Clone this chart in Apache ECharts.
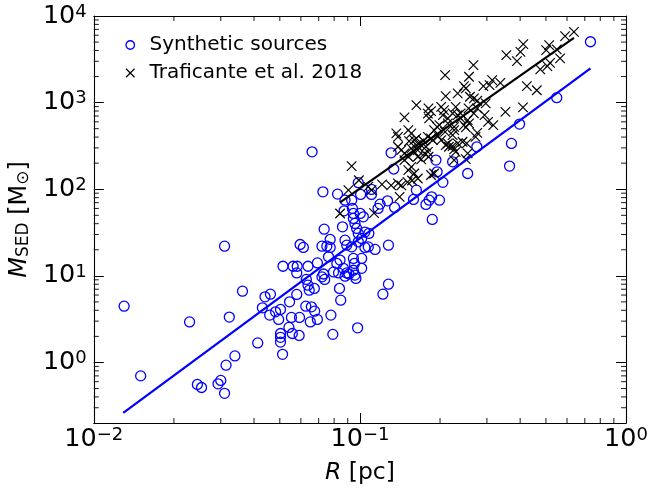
<!DOCTYPE html>
<html><head><meta charset="utf-8">
<script src="https://cdn.jsdelivr.net/npm/echarts@6/dist/echarts.min.js"></script>
<style>html,body{margin:0;padding:0;background:#fff}#c{width:651px;height:490px}</style>
</head><body><div id="c"></div>
<script>
// ---- data ----
const synthR = [0.0130,0.0150,0.0229,0.0310,0.0323,0.0314,0.0339,0.0245,0.0254,0.0293,
0.0300,0.0310,0.0362,0.0413,0.0430,0.0440,0.0461,0.0458,0.0482,0.0503,
0.0495,0.0503,0.0503,0.0503,0.0512,0.0514,0.0541,0.0544,0.0553,0.0557,
0.0561,0.0581,0.0579,0.0579,0.0593,0.0591,0.0596,0.0613,0.0638,0.0626,
0.0629,0.0638,0.0645,0.0674,0.0657,0.0676,0.0651,0.0692,0.0692,0.0720,
0.0720,0.0778,0.0791,0.0980,0.0730,0.0737,0.0838,0.0847,0.0831,0.0892,
0.0910,0.0966,0.122,0.128,0.0661,0.131,0.0726,0.0824,0.0986,0.1006,
0.1105,0.1105,0.0879,0.0931,0.0937,0.0872,0.1003,0.1030,0.0945,0.0958,
0.0972,0.0986,0.1044,0.1080,0.117,0.127,0.134,0.135,0.163,0.159,
0.177,0.182,0.186,0.199,0.187,0.193,0.195,0.205,0.223,0.254,
0.365,0.0734,0.0860,0.0773,0.0751,0.0773,0.128,0.114,0.1044,0.0879,
0.0892,0.0931,0.0986,0.1015,0.1075,0.0945,0.0953,0.1015,0.0842,0.0819,
0.0796,0.0867,0.0879,0.0945,0.0958,0.1015,
0.735,0.549,0.398,0.371,0.275,0.0945,0.119,0.0762];
const synthM = [4.47,0.70,2.94,22.0,3.34,0.93,1.19,0.557,0.514,0.566,
0.62,0.44,6.66,1.68,4.27,5.72,6.15,3.52,3.84,4.09,
3.14,2.16,1.95,1.72,1.24,12.9,2.54,5.01,3.31,2.16,
12.9,12.9,10.8,6.10,3.31,2.05,23.0,21.3,12.9,4.47,
9.09,7.81,6.84,7.15,4.39,3.91,2.94,3.14,14.1,22.0,
9.73,3.52,2.11,2.51,10.5,9.09,7.15,5.24,10.8,10.8,
10.5,9.33,6.15,8.02,270,263,93.3,87.8,119,87.1,
87.1,99.5,74.8,74.8,60.0,56.3,52.5,48.0,46.0,40.3,
35.3,30.9,32.0,30.9,60.0,73.5,171,61.6,97.6,76.2,
66.7,74.8,81.7,74.8,44.8,217,159,120,207,152,
185,34.6,36.8,26.3,22.0,21.3,22.6,20.2,21.3,25.8,
22.6,21.6,24.7,27.0,21.6,15.9,13.9,15.9,15.2,13.9,
11.1,12.2,9.92,11.6,10.2,12.2,
5040,1140,565,338,309,52.5,67.3,16.6];

const trafR = [0.637,0.590,0.514,0.501,0.549,0.411,0.401,0.355,0.389,0.565,
0.518,0.506,0.476,0.267,0.257,0.209,0.314,0.307,0.337,0.291,
0.424,0.462,0.246,0.250,0.233,0.210,0.259,0.268,0.276,0.297,
0.163,0.181,0.185,0.202,0.207,0.229,0.239,0.256,0.352,0.410,
0.147,0.182,0.180,0.223,0.214,0.205,0.268,0.294,0.303,0.317,
0.195,0.209,0.226,0.250,0.276,0.223,0.137,0.139,0.152,0.156,
0.163,0.167,0.180,0.188,0.214,0.216,0.252,0.272,0.139,0.143,
0.147,0.156,0.160,0.177,0.180,0.223,0.226,0.229,0.254,0.165,
0.170,0.233,0.239,0.254,0.257,0.276,0.199,0.214,0.226,0.246,
0.190,0.233,0.243,0.0931,0.0991,0.1075,0.1105,0.0905,0.121,0.131,
0.139,0.143,0.151,0.157,0.165,0.185,0.190,0.152,0.156,0.160,
0.147,0.152,0.141,0.163,0.175,0.181,0.210,0.226,0.250,0.0842,
0.113,0.153,0.173,0.197,0.160,0.185,0.202,0.165];
const trafM = [6570,5860,4610,4040,4110,4740,3860,3530,3010,3240,
2880,2640,2420,2710,1990,2080,1820,1590,1690,1550,
1550,1390,1550,1460,1280,1190,1170,1120,1050,979,
935,857,798,894,819,894,750,857,783,880,
675,657,746,750,657,717,750,717,600,550,
525,460,525,517,448,421,441,403,481,441,
386,338,403,369,338,309,338,403,309,283,
259,296,270,309,270,315,288,270,259,237,
221,717,657,628,575,857,550,575,481,550,
481,338,353,185,127,107,97.6,97.6,114,111,
117,111,121,126,133,146,152,166,181,152,
217,237,81.7,323,259,237,323,217,223,52.5,
53.0,359,363,410,369,386,369,283];

const synthFitR = [0.0129, 0.735];
const synthFitM = [0.262, 2480];
const trafFitR = [0.084, 0.637];
const trafFitM = [70, 5600];

const xRange = [0.01, 1];
const yRange = [0.2, 10000];
const xMinorTicks = [0.02,0.03,0.04,0.05,0.06,0.07,0.08,0.09,0.2,0.3,0.4,0.5,0.6,0.7,0.8,0.9];
const yMinorTicks = [0.3,0.4,0.5,0.6,0.7,0.8,0.9,2,3,4,5,6,7,8,9,20,30,40,50,60,70,80,90,
  200,300,400,500,600,700,800,900,2000,3000,4000,5000,6000,7000,8000,9000];

const seriesNames = ['Synthetic sources', 'Traficante et al. 2018'];

// ---- chart ----
const FONT = 'DejaVu Sans';
const CROSS = 'path://M0,0L10,10M10,0L0,10';
const zip = (a, b) => a.map((v, i) => [v, b[i]]);

function expLabel(v) {
  const l = Math.log10(v), e = Math.round(l);
  if (Math.abs(l - e) > 1e-6) return '';
  return '{b|10}{s|' + (e < 0 ? '\u2212' + (-e) : e) + '}';
}
const labelRich = {
  b: {fontFamily: FONT, fontSize: 25.5, lineHeight: 26, verticalAlign: 'bottom', color: '#000'},
  s: {fontFamily: FONT, fontSize: 18, lineHeight: 18, verticalAlign: 'top', color: '#000'}
};
const axisLineStyle = {color: '#000', width: 1.1};

function mainAxis(pos, range, isX) {
  return {
    type: 'log', position: pos, min: range[0], max: range[1], logBase: 10,
    axisLine: {show: true, onZero: false, lineStyle: axisLineStyle},
    axisTick: {show: true, inside: true, length: 10, lineStyle: {color: '#000', width: 1}},
    splitLine: {show: false},
    minorTick: {show: false},
    axisLabel: {show: true, formatter: expLabel, rich: labelRich, margin: isX ? 3 : 7,
      showMinLabel: true, showMaxLabel: true}
  };
}
function mirrorAxis(pos, range) {
  return {
    type: 'log', position: pos, min: range[0], max: range[1], logBase: 10,
    axisLine: {show: true, onZero: false, lineStyle: axisLineStyle},
    axisTick: {show: true, inside: true, length: 10, lineStyle: {color: '#000', width: 1}},
    splitLine: {show: false},
    axisLabel: {show: false}
  };
}

const xMain = mainAxis('bottom', xRange, true);
xMain.name = '{i|R}{r| [pc]}';
xMain.nameLocation = 'middle';
xMain.nameGap = 38;
xMain.nameTextStyle = {rich: {
  i: {fontFamily: FONT, fontStyle: 'italic', fontSize: 23.5, lineHeight: 24, color: '#000'},
  r: {fontFamily: FONT, fontSize: 23.5, lineHeight: 24, color: '#000'}
}};
const yMain = mainAxis('left', yRange, false);
yMain.name = '{i|M}{sub|SED}{r| [M}{sub|\u2299}{r|]}';
yMain.nameLocation = 'middle';
yMain.nameRotate = 90;
yMain.nameGap = 57;
yMain.nameTextStyle = {rich: {
  i: {fontFamily: FONT, fontStyle: 'italic', fontSize: 24, lineHeight: 24, verticalAlign: 'top', color: '#000'},
  r: {fontFamily: FONT, fontSize: 24, lineHeight: 24, verticalAlign: 'top', color: '#000'},
  sub: {fontFamily: FONT, fontSize: 17, lineHeight: 14, verticalAlign: 'bottom', color: '#000'}
}};

function minorTickSeries(values, isX) {
  return {
    type: 'custom', silent: true, clip: false, z: 10,
    xAxisIndex: 0, yAxisIndex: 0,
    data: values.map(v => isX ? [v, 1] : [0.1, v]),
    renderItem: function (params, api) {
      const st = {stroke: '#000', lineWidth: 0.9};
      if (isX) {
        const v = api.value(0);
        const b = api.coord([v, yRange[0]]);
        const t = api.coord([v, yRange[1]]);
        return {type: 'group', children: [
          {type: 'line', shape: {x1: b[0], y1: b[1], x2: b[0], y2: b[1] - 5}, style: st},
          {type: 'line', shape: {x1: t[0], y1: t[1], x2: t[0], y2: t[1] + 5}, style: st}
        ]};
      } else {
        const v = api.value(1);
        const l = api.coord([xRange[0], v]);
        const r = api.coord([xRange[1], v]);
        return {type: 'group', children: [
          {type: 'line', shape: {x1: l[0], y1: l[1], x2: l[0] + 5, y2: l[1]}, style: st},
          {type: 'line', shape: {x1: r[0], y1: r[1], x2: r[0] - 5, y2: r[1]}, style: st}
        ]};
      }
    }
  };
}

const chart = echarts.init(document.getElementById('c'), null, {renderer: 'canvas'});
chart.setOption({
  animation: false,
  backgroundColor: '#fff',
  grid: {left: 90, right: 24, top: 16, bottom: 67, containLabel: false},
  xAxis: [xMain, mirrorAxis('top', xRange)],
  yAxis: [yMain, mirrorAxis('right', yRange)],
  legend: {
    orient: 'vertical', left: 118.5, top: 30, itemWidth: 8.5, itemHeight: 8.5, itemGap: 8,
    selectedMode: false,
    data: [
      {name: seriesNames[0], icon: 'circle', itemStyle: {color: '#fff', borderColor: '#0000ff', borderWidth: 1.3}},
      {name: seriesNames[1], icon: CROSS, itemStyle: {color: 'none', borderColor: '#000', borderWidth: 1.2}}
    ],
    textStyle: {fontFamily: FONT, fontSize: 20, lineHeight: 20, color: '#000', padding: [0, 0, 0, 10]}
  },
  series: [
    {
      name: seriesNames[0], type: 'scatter', xAxisIndex: 0, yAxisIndex: 0,
      data: zip(synthR, synthM), symbol: 'circle', symbolSize: 10,
      itemStyle: {color: 'rgba(0,0,0,0)', borderColor: '#0000ff', borderWidth: 1.3, opacity: 1},
      emphasis: {disabled: true}, z: 2
    },
    {
      name: seriesNames[1], type: 'scatter', xAxisIndex: 0, yAxisIndex: 0,
      data: zip(trafR, trafM), symbol: CROSS, symbolSize: 9.5,
      itemStyle: {color: 'none', borderColor: '#000', borderWidth: 1.2, opacity: 1},
      emphasis: {disabled: true}, z: 3
    },
    {
      name: 'synthFit', type: 'line', xAxisIndex: 0, yAxisIndex: 0,
      data: zip(synthFitR, synthFitM), showSymbol: false, symbol: 'none',
      lineStyle: {color: '#0000ff', width: 2.2}, emphasis: {disabled: true}, z: 4
    },
    {
      name: 'trafFit', type: 'line', xAxisIndex: 0, yAxisIndex: 0,
      data: zip(trafFitR, trafFitM), showSymbol: false, symbol: 'none',
      lineStyle: {color: '#000', width: 2.2}, emphasis: {disabled: true}, z: 5
    },
    minorTickSeries(xMinorTicks, true),
    minorTickSeries(yMinorTicks, false)
  ]
});
</script>
</body></html>
